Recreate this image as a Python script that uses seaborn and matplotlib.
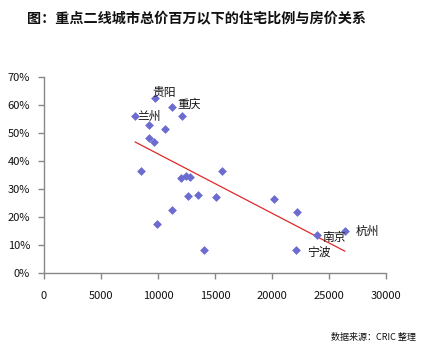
import numpy as np
import pandas as pd
import matplotlib
matplotlib.use("Agg")
import matplotlib.pyplot as plt
import seaborn as sns

# Average house price (yuan/m²) vs share of homes priced under one million
price = [7980, 9740, 11230, 12100, 9240, 10590, 9240, 9680, 8480, 15640,
         12020, 12460, 12810, 12630, 13510, 15090, 11230, 9910, 14040,
         20150, 22190, 22100, 23920, 26400]
share = [56.1, 62.5, 59.3, 56.1, 52.9, 51.3, 48.3, 46.9, 36.5, 36.5,
         33.8, 34.6, 34.2, 27.6, 27.8, 27.1, 22.6, 17.6, 8.3,
         26.5, 21.7, 8.1, 13.6, 15.1]

# City annotations: name, label left x, label centre y
city_names = ["贵阳", "重庆", "兰州", "南京", "宁波", "杭州"]
city_label_x = [9470, 11670, 8160, 24390, 23070, 27370]
city_label_y = [64.6, 60.4, 55.9, 12.7, 7.5, 15.0]

x_ticks = [0, 5000, 10000, 15000, 20000, 25000, 30000]
y_ticks = [0, 10, 20, 30, 40, 50, 60, 70]

title = "图：重点二线城市总价百万以下的住宅比例与房价关系"
source = "数据来源：CRIC 整理"

sns.set_theme(style="white")
plt.rcParams["font.family"] = ["Noto Sans CJK SC", "DejaVu Sans"]

df = pd.DataFrame({"price": price, "share": share})

fig = plt.figure(figsize=(4.22, 3.47), dpi=100)
ax = fig.add_axes([0.1043, 0.2133, 0.8104, 0.5648])

sns.scatterplot(data=df, x="price", y="share", marker="D", s=20,
                color="#6b6bd0", linewidth=0, ax=ax, zorder=3)

# Linear trend line over the data range
coef = np.polyfit(df["price"], df["share"], 1)
xs = np.array([df["price"].min(), df["price"].max()])
ax.plot(xs, np.polyval(coef, xs), color="#e02828", lw=0.9, zorder=2)

for name, lx, ly in zip(city_names, city_label_x, city_label_y):
    ax.text(lx, ly, name, fontsize=8.5, ha="left", va="center",
            color="#111111", zorder=4)

ax.set_xlim(0, 30000)
ax.set_ylim(0, 70)
ax.set_xticks(x_ticks)
ax.set_xticklabels([str(v) for v in x_ticks])
ax.set_yticks(y_ticks)
ax.set_yticklabels([f"{v}%" for v in y_ticks])
ax.set_xlabel("")
ax.set_ylabel("")

for side in ["top", "right"]:
    ax.spines[side].set_visible(False)
for side in ["left", "bottom"]:
    ax.spines[side].set_color("#888888")
    ax.spines[side].set_linewidth(1.0)

ax.tick_params(axis="both", which="major", direction="out", length=4,
               width=1.0, color="#888888", labelsize=8, labelcolor="#111111",
               left=True, bottom=True)
ax.tick_params(axis="x", pad=9)
ax.tick_params(axis="y", pad=6)
ax.grid(False)

fig.text(0.064, 0.945, title, fontsize=10.2, fontweight="bold",
         ha="left", va="center", color="#111111")
fig.text(0.986, 0.026, source, fontsize=6.5, ha="right", va="center",
         color="#111111")

fig.savefig("out.png", dpi=100, facecolor="white")
